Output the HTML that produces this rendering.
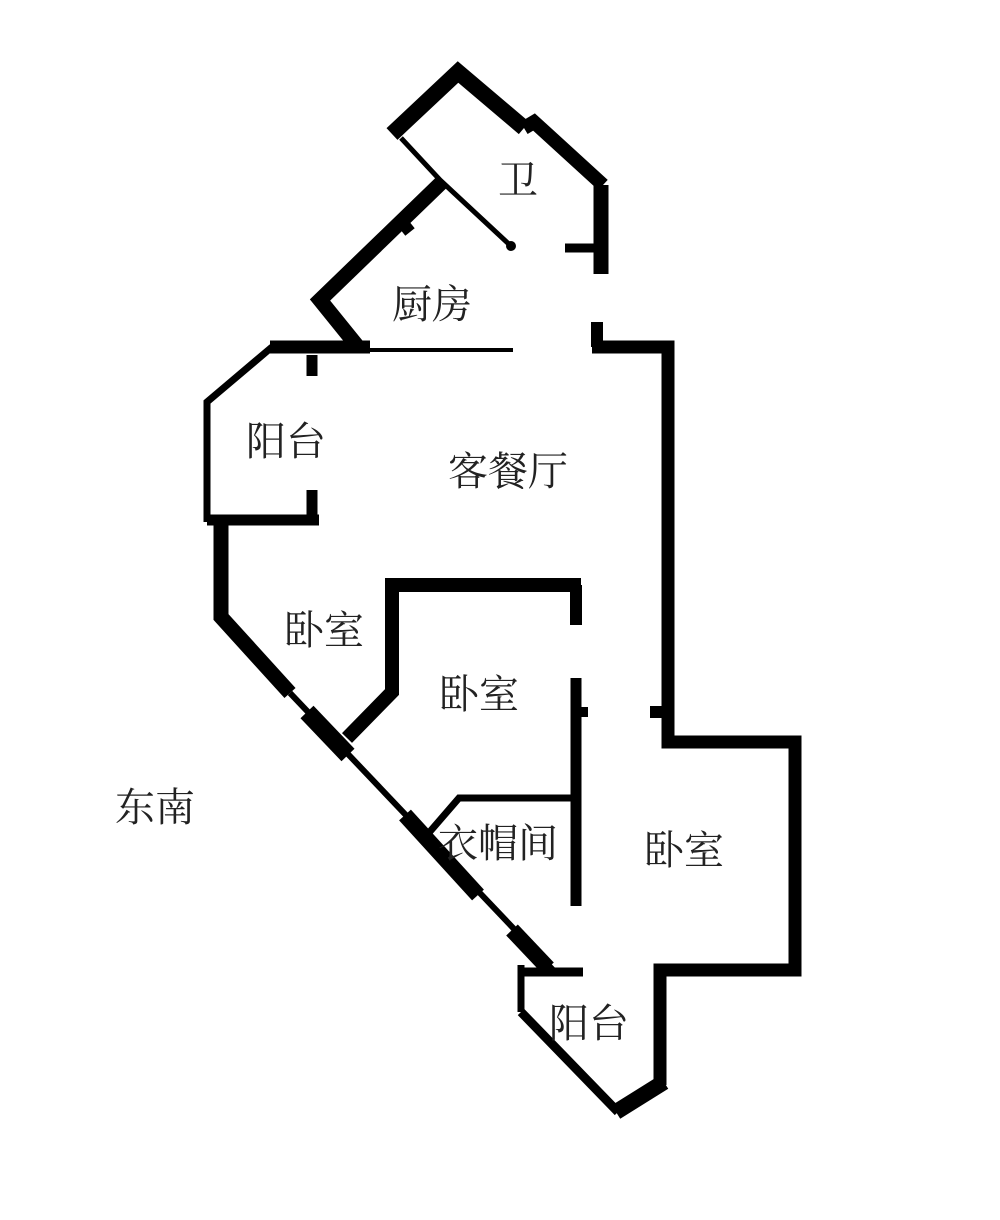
<!DOCTYPE html>
<html><head><meta charset="utf-8"><style>
html,body{margin:0;padding:0;background:#fff;}
svg{display:block}
text{font-family:"Liberation Serif","Noto Serif CJK SC",serif;font-size:40px;fill:#222;}
</style></head><body>
<svg width="1000" height="1220" viewBox="0 0 1000 1220" xmlns="http://www.w3.org/2000/svg">
<g fill="none" stroke="#000" stroke-linejoin="miter" stroke-linecap="butt">
<!-- bathroom outer -->
<polyline points="392,134 458,72 524,128" stroke-width="16"/>
<polyline points="524,128 534,122 603,185" stroke-width="14"/>
<line x1="601" y1="185" x2="601" y2="274" stroke-width="15"/>
<!-- bathroom / kitchen divider thin -->
<polyline points="401,138 440,180 512,247" stroke-width="5"/>
<circle cx="511" cy="246" r="5" fill="#000" stroke="none"/>
<!-- kitchen thick -->
<polyline points="442,182 320,300 358,347" stroke-width="15"/>
<line x1="402" y1="222" x2="410" y2="232" stroke-width="12"/>
<!-- bath stub -->
<line x1="565" y1="248" x2="600" y2="248" stroke-width="9"/>
<!-- top horizontal -->
<line x1="270" y1="347" x2="370" y2="347" stroke-width="13"/>
<line x1="370" y1="350" x2="513" y2="350" stroke-width="4"/>
<!-- right upper wall -->
<line x1="597" y1="322" x2="597" y2="347" stroke-width="12"/>
<polyline points="592,347 668,347 668,742 795,742 795,970 660,970 660,1085" stroke-width="13"/>
<line x1="650" y1="712" x2="662" y2="712" stroke-width="12"/>
<!-- bottom balcony -->
<polyline points="664,1082 616,1112" stroke-width="16"/>
<polyline points="618,1112 521,1012" stroke-width="9"/>
<line x1="521" y1="965" x2="521" y2="1012" stroke-width="7"/>
<line x1="520" y1="972" x2="583" y2="972" stroke-width="9"/>
<!-- left balcony -->
<polyline points="272,347 207,402 207,522" stroke-width="7"/>
<line x1="207" y1="520" x2="319" y2="520" stroke-width="11"/>
<line x1="312" y1="355" x2="312" y2="376" stroke-width="11"/>
<line x1="312" y1="490" x2="312" y2="520" stroke-width="11"/>
<!-- left wall -->
<polyline points="221,525 221,617 290,693" stroke-width="15"/>
<line x1="290" y1="693" x2="553" y2="970" stroke-width="6"/>
<line x1="307" y1="712" x2="348" y2="755" stroke-width="18"/>
<line x1="405" y1="815" x2="478" y2="895" stroke-width="16"/>
<line x1="512" y1="930" x2="548" y2="968" stroke-width="16"/>
<!-- bedroom 1/2 -->
<polyline points="581,585 392,585 392,692 347,738" stroke-width="14"/>
<line x1="576" y1="585" x2="576" y2="625" stroke-width="12"/>
<line x1="576" y1="678" x2="576" y2="906" stroke-width="11"/>
<line x1="576" y1="712" x2="588" y2="712" stroke-width="10"/>
<!-- closet -->
<polyline points="572,798 459,798 427,835" stroke-width="7"/>
</g>
<text x="498" y="194">卫</text>
<text x="392" y="318">厨房</text>
<text x="246" y="455">阳台</text>
<text x="448" y="485">客餐厅</text>
<text x="284" y="644">卧室</text>
<text x="439" y="708">卧室</text>
<text x="438" y="857">衣帽间</text>
<text x="644" y="864">卧室</text>
<text x="549" y="1037">阳台</text>
<text x="115" y="821">东南</text>
</svg>
</body></html>
